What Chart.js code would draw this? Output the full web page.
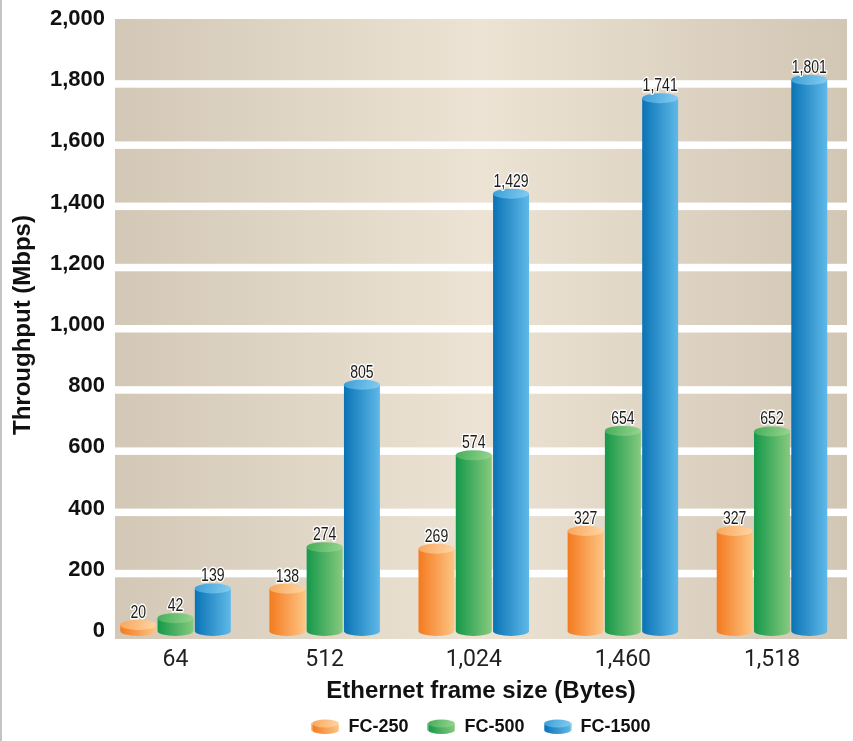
<!DOCTYPE html>
<html>
<head>
<meta charset="utf-8">
<script src="https://cdn.jsdelivr.net/npm/chart.js@4.4.1/dist/chart.umd.min.js"></script>
<style>
  html, body { margin: 0; padding: 0; background: #ffffff; }
  #wrap { width: 853px; height: 741px; position: relative; }
</style>
</head>
<body>
<div id="wrap"><canvas id="c" width="853" height="741"></canvas></div>
<script>
// ---- data ----
const categories = ['64', '512', '1,024', '1,460', '1,518'];
const seriesNames = ['FC-250', 'FC-500', 'FC-1500'];
const fc250 = [20, 138, 269, 327, 327];
const fc500 = [42, 274, 574, 654, 652];
const fc1500 = [139, 805, 1429, 1741, 1801];
const yTickValues = [0, 200, 400, 600, 800, 1000, 1200, 1400, 1600, 1800, 2000];

// ---- styles ----
const palettes = [
  { dark: '#f47a1f', light: '#fdc584', topA: '#f9a65c', topB: '#fed6a4' },
  { dark: '#15984a', light: '#86ca7e', topA: '#43ae58', topB: '#9ad591' },
  { dark: '#0a73b5', light: '#5fb9e8', topA: '#3a9ed8', topB: '#86cdf1' }
];
const SANS = "'Liberation Sans', Arial, Helvetica, sans-serif";

function cylinderPath(ctx, x, top, base, w, ry, pal) {
  const rx = w / 2, l = x - rx, r = x + rx;
  const g = ctx.createLinearGradient(l, 0, r, 0);
  g.addColorStop(0, pal.dark);
  g.addColorStop(1, pal.light);
  ctx.fillStyle = g;
  ctx.beginPath();
  ctx.moveTo(l, top);
  ctx.lineTo(l, base);
  ctx.ellipse(x, base, rx, ry, 0, Math.PI, 0, true);
  ctx.lineTo(r, top);
  ctx.closePath();
  ctx.fill();
  const tg = ctx.createLinearGradient(l, top - ry, r, top + ry);
  tg.addColorStop(0, pal.topA);
  tg.addColorStop(1, pal.topB);
  ctx.fillStyle = tg;
  ctx.beginPath();
  ctx.ellipse(x, top, rx, ry, 0, 0, Math.PI * 2);
  ctx.fill();
}

function makeIcon(pal) {
  const c = document.createElement('canvas');
  c.width = 28; c.height = 16;
  const ctx = c.getContext('2d');
  cylinderPath(ctx, 14, 4.5, 11, 27, 4, pal);
  return c;
}
const legendIcons = palettes.map(makeIcon);

const bgPlugin = {
  id: 'bgPlugin',
  beforeDraw(chart) {
    const { ctx, chartArea: a } = chart;
    const ys = chart.scales.y;
    ctx.save();
    ctx.fillStyle = '#c4c4c4';
    ctx.fillRect(0, 0, 2, chart.height);
    const g = ctx.createLinearGradient(a.left, 0, a.right, 0);
    g.addColorStop(0, '#d3c8b6');
    g.addColorStop(0.5, '#ece3d4');
    g.addColorStop(1, '#d2c6b4');
    ctx.fillStyle = g;
    ctx.fillRect(a.left, a.top, a.right - a.left, a.bottom - a.top + 8);
    ctx.fillStyle = '#ffffff';
    yTickValues.forEach(v => {
      if (v === 0 || v === 2000) return;
      const y = ys.getPixelForValue(v);
      ctx.fillRect(a.left, y, a.right - a.left, 7.5);
    });
    ctx.restore();
  }
};

const cylPlugin = {
  id: 'cylPlugin',
  afterDatasetsDraw(chart) {
    const { ctx } = chart;
    chart.data.datasets.forEach((ds, di) => {
      const meta = chart.getDatasetMeta(di);
      meta.data.forEach((el, i) => {
        ctx.save();
        cylinderPath(ctx, el.x, el.y, el.base, el.width, 5, palettes[di]);
        const txt = ds.data[i].y.toLocaleString('en-US');
        ctx.translate(el.x, el.y - 7);
        ctx.scale(0.78, 1);
        ctx.font = '18px ' + SANS;
        ctx.textAlign = 'center';
        ctx.textBaseline = 'alphabetic';
        ctx.lineJoin = 'round';
        ctx.strokeStyle = 'rgba(255,255,255,0.95)';
        ctx.lineWidth = 3;
        ctx.strokeText(txt, 0, 0);
        ctx.fillStyle = '#1a1a1a';
        ctx.fillText(txt, 0, 0);
        ctx.restore();
      });
    });
  }
};

const seriesValues = [fc250, fc500, fc1500];
const datasets = seriesNames.map((name, si) => ({
  label: name,
  data: seriesValues[si].map((v, i) => ({ x: i, y: v })),
  backgroundColor: 'rgba(0,0,0,0)',
  borderWidth: 0,
  categoryPercentage: 0.75,
  barPercentage: 0.965
}));

new Chart(document.getElementById('c'), {
  type: 'bar',
  data: { datasets },
  plugins: [bgPlugin, cylPlugin],
  options: {
    responsive: false,
    animation: false,
    events: [],
    layout: { padding: { top: 19, right: 6, bottom: -5, left: 0 } },
    scales: {
      x: {
        type: 'linear',
        offset: false,
        min: -0.406,
        max: 4.503,
        afterFit(scale) { scale.height = 68; },
        grid: { display: false, drawTicks: false, offset: false },
        border: { display: false },
        afterBuildTicks(scale) { scale.ticks = categories.map((c, i) => ({ value: i })); },
        ticks: {
          autoSkip: false,
          maxRotation: 0,
          padding: 15,
          color: '#231f20',
          font: { family: "Roboto, " + SANS, size: 23 },
          callback: (v) => categories[v]
        },
        title: {
          display: true,
          text: 'Ethernet frame size (Bytes)',
          color: '#111111',
          font: { family: SANS, size: 24, weight: 'bold' },
          padding: { top: 0, bottom: -7 }
        }
      },
      y: {
        min: 0,
        max: 2000,
        afterFit(scale) { scale.width = 115; },
        grid: { display: false, drawTicks: false },
        border: { display: false },
        afterBuildTicks(scale) { scale.ticks = yTickValues.map(v => ({ value: v })); },
        ticks: {
          padding: 10,
          color: '#111111',
          font: { family: SANS, size: 22, weight: 'bold', lineHeight: 0.7 },
          callback: (v) => v.toLocaleString('en-US')
        },
        title: {
          display: true,
          text: 'Throughput (Mbps)',
          color: '#111111',
          font: { family: SANS, size: 24, weight: 'bold' },
          padding: { top: 9, bottom: 0 }
        }
      }
    },
    plugins: {
      tooltip: { enabled: false },
      legend: {
        position: 'bottom',
        fullSize: false,
        labels: {
          usePointStyle: true,
          pointStyleWidth: 28,
          padding: 19,
          color: '#111111',
          font: { family: SANS, size: 18, weight: 'bold' },
          generateLabels(chart) {
            const items = Chart.defaults.plugins.legend.labels.generateLabels(chart);
            items.forEach((it, i) => { it.pointStyle = legendIcons[i]; it.lineWidth = 0; });
            return items;
          }
        }
      }
    }
  }
});
</script>
</body>
</html>
